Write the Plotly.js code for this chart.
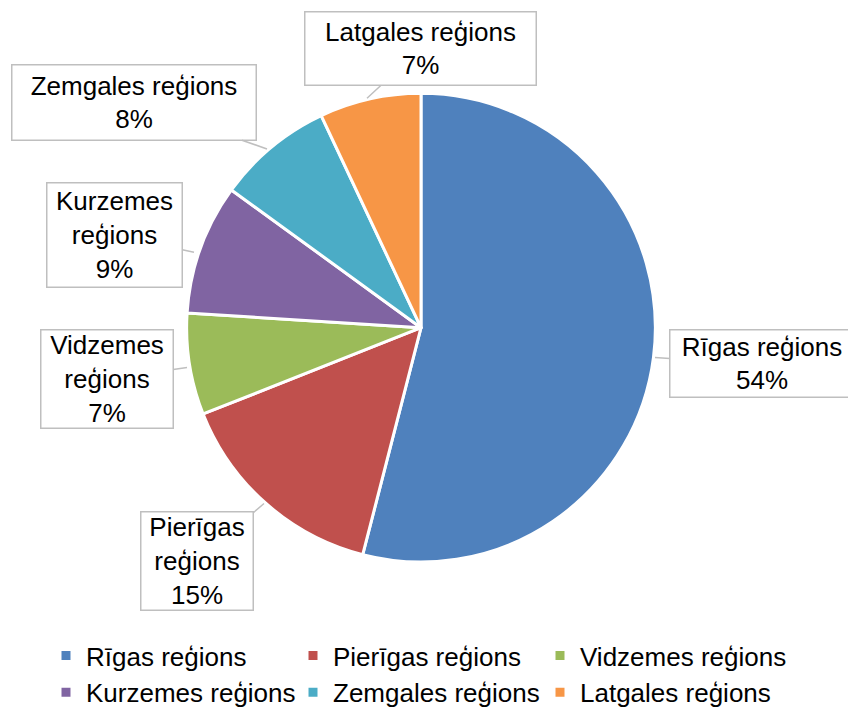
<!DOCTYPE html>
<html>
<head>
<meta charset="utf-8">
<script src="https://cdn.plot.ly/plotly-3.0.1.min.js"></script>
<style>
  html, body { margin: 0; padding: 0; background: #ffffff; }
  #chart { width: 848px; height: 716px; }
</style>
</head>
<body>
<div id="chart"></div>
<script>
// ---- data ----
const regions = ["Rīgas reģions", "Pierīgas reģions", "Vidzemes reģions", "Kurzemes reģions", "Zemgales reģions", "Latgales reģions"];
const shares = [54, 15, 7, 9, 8, 7];
const colors = ["#4F81BD", "#C0504D", "#9BBB59", "#8064A2", "#4BACC6", "#F79646"];
const wrapWords = [false, true, true, true, false, false];

// ---- callout geometry (pixels): box centre, box size, pointer tip ----
const W = 848, H = 716;
const callouts = [
  {cx: 762, cy: 366.5, w: 186, h: 69,  tx: 655, ty: 360},
  {cx: 197, cy: 565,   w: 114, h: 100, tx: 264, ty: 507},
  {cx: 107, cy: 382,   w: 134, h: 100, tx: 187, ty: 370},
  {cx: 114.5, cy: 237, w: 137, h: 106, tx: 194, ty: 254},
  {cx: 134, cy: 103.5, w: 246, h: 77,  tx: 267, ty: 150},
  {cx: 420.5, cy: 49.5, w: 233, h: 75, tx: 367, ty: 99}
];

const FONT = "Liberation Sans, Arial, sans-serif";
const total = shares.reduce((a, b) => a + b, 0);

const annotations = regions.map((r, i) => {
  const c = callouts[i];
  const name = wrapWords[i] ? r.split(" ").join("<br>") : r;
  const pct = Math.round(shares[i] / total * 100) + "%";
  return {
    xref: "paper", yref: "paper",
    x: c.tx / W, y: 1 - c.ty / H,
    ax: c.cx - c.tx, ay: c.cy - c.ty,
    axref: "pixel", ayref: "pixel",
    text: name + "<br>" + pct,
    showarrow: true, arrowhead: 0, arrowwidth: 1.5, arrowcolor: "#BFBFBF",
    standoff: 0, startstandoff: 0,
    width: c.w - 3, height: c.h - 3,
    align: "center", valign: "middle",
    bgcolor: "#ffffff", bordercolor: "#BFBFBF", borderwidth: 1.5, borderpad: 0,
    font: {family: FONT, size: 26, color: "#000000"}
  };
});

const R = 236, CX = 421, CY = 330;

const trace = {
  type: "pie",
  labels: regions,
  values: shares,
  sort: false,
  direction: "clockwise",
  rotation: 0,
  textinfo: "none",
  hoverinfo: "label+percent",
  marker: {colors: colors, line: {color: "#ffffff", width: 3}},
  domain: {x: [(CX - R) / W, (CX + R) / W], y: [1 - (CY + R) / H, 1 - (CY - R) / H]}
};

const layout = {
  width: W, height: H,
  margin: {l: 0, r: 0, t: 0, b: 0},
  paper_bgcolor: "#ffffff",
  plot_bgcolor: "#ffffff",
  showlegend: true,
  legend: {
    orientation: "h",
    x: 46 / W, xanchor: "left",
    y: 1 - 636.5 / H, yanchor: "top",
    entrywidth: 202, entrywidthmode: "pixels",
    font: {family: FONT, size: 26, color: "#000000"},
    itemclick: false, itemdoubleclick: false
  },
  annotations: annotations
};

Plotly.newPlot("chart", [trace], layout, {displayModeBar: false, staticPlot: true});
</script>
</body>
</html>
